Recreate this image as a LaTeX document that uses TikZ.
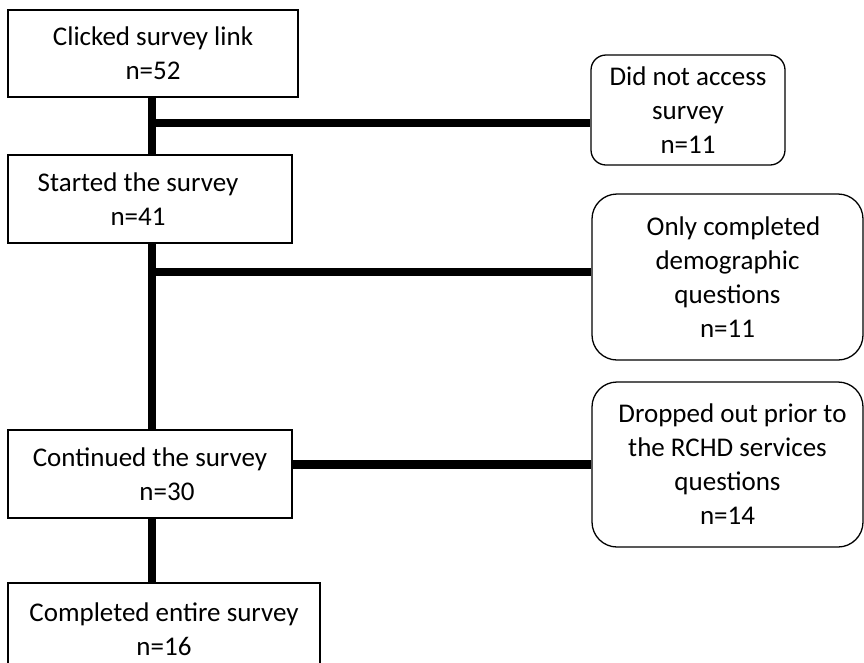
\documentclass[tikz,border=0pt]{standalone}
\usepackage{fontspec}
\setmainfont{Carlito}
\begin{document}
\begin{tikzpicture}[x=1pt,y=-1pt,
  box/.style={draw=black,line width=1.3pt,rectangle,align=center,inner sep=0pt,
    font=\fontsize{27}{34}\selectfont},
  rbox/.style={box,rounded corners=#1},
  spineline/.style={line width=8.5pt,line cap=butt}]
\useasboundingbox (0,0) rectangle (864,662);
\fill[white] (0,0) rectangle (864,662);
% left boxes
\node[box,minimum width=290,minimum height=87] (b1) at (153,53.5) {Clicked survey link\\n=52};
\node[box,minimum width=284,minimum height=88] (b2) at (150,199) {Started the survey\hspace*{24pt}\\n=41\hspace*{24pt}};
\node[box,minimum width=284,minimum height=88] (b3) at (150,474) {Continued the survey\\\hspace*{34pt}n=30};
\node[box,minimum width=312,minimum height=92] (b4) at (164,629) {Completed entire survey\\n=16};
% right boxes
\node[rbox=15pt,minimum width=194,minimum height=110] (r1) at (688,110) {Did not access\\survey\\n=11};
\node[rbox=25pt,minimum width=271,minimum height=166] (r2) at (727.5,277) {\hspace*{12pt}Only completed\\demographic\\questions\\n=11};
\node[rbox=25pt,minimum width=271,minimum height=165] (r3) at (727.5,464.5) {\hspace*{10pt}Dropped out prior to\\the RCHD services\\questions\\n=14};
% spine
\coordinate (spine) at (152,0);
\coordinate (j1) at (152,123);
\coordinate (j2) at (152,272);
\draw[spineline] (b1.south -| spine) -- (b2.north -| spine);
\draw[spineline] (b2.south -| spine) -- (b3.north -| spine);
\draw[spineline] (b3.south -| spine) -- (b4.north -| spine);
% branches
\draw[spineline] (j1) -- (j1 -| r1.west);
\draw[spineline] (j2) -- (j2 -| r2.west);
\draw[spineline] (r3.west -| b3.east) -- (r3.west);
\end{tikzpicture}
\end{document}
